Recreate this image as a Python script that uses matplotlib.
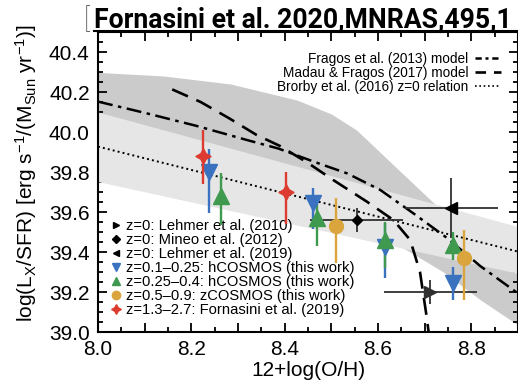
import matplotlib
matplotlib.use("Agg")
import matplotlib.pyplot as plt
from matplotlib.lines import Line2D
from matplotlib.ticker import MultipleLocator, FuncFormatter

plt.rcParams['font.family'] = ['Liberation Sans', 'DejaVu Sans']
plt.rcParams['mathtext.default'] = 'regular'

# ---------------- data ----------------
# Fornasini et al. (2019), z=1.3-2.7
red_x = [8.226, 8.403]
red_y = [39.88, 39.70]
red_up = [0.13, 0.10]
red_lo = [0.14, 0.16]

# hCOSMOS z=0.1-0.25
blue_x = [8.237, 8.461, 8.616, 8.761]
blue_y = [39.80, 39.647, 39.427, 39.243]
blue_up = [0.113, 0.071, 0.12, 0.084]
blue_lo = [0.203, 0.134, 0.159, 0.083]

# hCOSMOS z=0.25-0.4
green_x = [8.264, 8.469, 8.616, 8.761]
green_y = [39.68, 39.568, 39.46, 39.435]
green_up = [0.117, 0.092, 0.092, 0.065]
green_lo = [0.145, 0.138, 0.14, 0.075]

# zCOSMOS z=0.5-0.9
gold_x = [8.509, 8.785]
gold_y = [39.532, 39.368]
gold_up = [0.136, 0.142]
gold_lo = [0.189, 0.208]

# z=0 literature points
leh10_x, leh10_y, leh10_xerr, leh10_yerr = 8.712, 39.202, 0.1, 0.06
mineo_x, mineo_y, mineo_xerr, mineo_yerr = 8.554, 39.56, 0.1, 0.058
leh19_x, leh19_y, leh19_xerr, leh19_yerr = 8.757, 39.622, 0.1, 0.15

# Fragos et al. (2013) model (dash-dot)
frag_x = [8.0, 8.105, 8.212, 8.319, 8.387, 8.462, 8.534, 8.605, 8.676, 8.748, 8.819, 8.9]
frag_y = [40.152, 40.093, 40.03, 39.96, 39.917, 39.852, 39.793, 39.71, 39.593, 39.47, 39.33, 39.193]

# Fragos model uncertainty band (dark grey)
band_d_x = [8.0, 8.141, 8.284, 8.426, 8.50, 8.554, 8.64, 8.74, 8.82, 8.9]
band_d_hi = [40.298, 40.28, 40.24, 40.16, 40.09, 40.01, 39.82, 39.60, 39.46, 39.35]
band_d_lo = [40.0, 39.93, 39.84, 39.70, 39.62, 39.56, 39.44, 39.30, 39.16, 39.035]

# Madau & Fragos (2017) model (dashed)
mf_x = [8.159, 8.22, 8.28, 8.34, 8.39, 8.45, 8.504, 8.576, 8.633, 8.669, 8.690, 8.704, 8.709]
mf_y = [40.213, 40.15, 40.07, 39.985, 39.93, 39.845, 39.76, 39.652, 39.56, 39.46, 39.30, 39.08, 38.99]

# Brorby et al. (2016) z=0 relation (dotted) and its band (light grey)
bro_x = [8.0, 8.9]
bro_y = [39.927, 39.402]
bro_hi = [40.10, 39.527]
bro_lo = [39.752, 39.293]

# ---------------- figure ----------------
W, H = 518, 391
fig = plt.figure(figsize=(W / 100, H / 100), dpi=100)
ax = fig.add_axes([98 / W, 1 - 332 / H, 420 / W, 300 / H])

ax.fill_between(band_d_x, band_d_lo, band_d_hi, color='#cbcbcb', lw=0, zorder=1)
ax.fill_between(bro_x, bro_lo, bro_hi, color='#e6e6e6', lw=0, zorder=2)

l_frag, = ax.plot(frag_x, frag_y, color='black', lw=1.8, dashes=(6, 2.2, 1.4, 2.2), zorder=3)
l_mf, = ax.plot(mf_x, mf_y, color='black', lw=1.9, dashes=(6.5, 3.5), zorder=3)
l_bro, = ax.plot(bro_x, bro_y, color='black', lw=1.4, dashes=(1, 1.6), zorder=3)

dark = '#303030'
ax.errorbar(leh10_x, leh10_y, xerr=leh10_xerr, yerr=leh10_yerr, fmt='>', ms=8,
            color=dark, ecolor=dark, elinewidth=1.3, capsize=0, zorder=5)
ax.errorbar(mineo_x, mineo_y, xerr=mineo_xerr, yerr=mineo_yerr, fmt='D', ms=5,
            color='black', ecolor=dark, elinewidth=1.3, capsize=0, zorder=5)
ax.errorbar(leh19_x, leh19_y, xerr=leh19_xerr, yerr=leh19_yerr, fmt='<', ms=8,
            color='black', ecolor=dark, elinewidth=1.3, capsize=0, zorder=5)

c_red = '#dd3b2f'
c_blue = '#3a72c0'
c_green = '#3f9a4f'
c_gold = '#d9a53c'

ax.errorbar(blue_x, blue_y, yerr=[blue_lo, blue_up], fmt='v', ms=11, color=c_blue,
            elinewidth=1.7, capsize=0, zorder=6)
ax.errorbar(green_x, green_y, yerr=[green_lo, green_up], fmt='^', ms=11, color=c_green,
            elinewidth=1.7, capsize=0, zorder=6)
ax.errorbar(gold_x, gold_y, yerr=[gold_lo, gold_up], fmt='o', ms=10, color=c_gold,
            elinewidth=1.7, capsize=0, zorder=6)
ax.errorbar(red_x, red_y, yerr=[red_lo, red_up], fmt='none', ecolor=c_red,
            elinewidth=1.7, capsize=0, zorder=7)
ax.plot(red_x, red_y, ls='none', marker=(4, 1, 0), ms=11, color=c_red, zorder=7)

ax.set_xlim(8.0, 8.9)
ax.set_ylim(39.0, 40.5)

ax.xaxis.set_major_locator(MultipleLocator(0.1))
ax.xaxis.set_minor_locator(MultipleLocator(0.05))
ax.xaxis.set_major_formatter(FuncFormatter(
    lambda v, p: ('%.1f' % v) if abs(round(v * 10) % 2) < 0.5 else ''))
ax.yaxis.set_major_locator(MultipleLocator(0.2))
ax.yaxis.set_minor_locator(MultipleLocator(0.05))
ax.yaxis.set_major_formatter(FuncFormatter(lambda v, p: '%.1f' % v))

ax.tick_params(which='both', direction='in', top=True, right=True, width=1.3,
               labelsize=15, colors='black')
ax.tick_params(which='major', length=6.5, pad=6)
ax.tick_params(which='minor', length=3.5)
for s in ax.spines.values():
    s.set_linewidth(1.5)

ax.set_xlabel('12+log(O/H)', fontsize=15, labelpad=1)
fig.text(26 / W, 1 - 173 / H,
         'log(L$_X$/SFR) [erg s$^{-1}$/(M$_{Sun}$ yr$^{-1}$)]',
         rotation=90, fontsize=15, ha='center', va='center')

# legends
h1 = [
    Line2D([], [], ls='none', marker='>', ms=5, color='black'),
    Line2D([], [], ls='none', marker='D', ms=4, color='black'),
    Line2D([], [], ls='none', marker='<', ms=5, color='black'),
    Line2D([], [], ls='none', marker='v', ms=6, color=c_blue),
    Line2D([], [], ls='none', marker='^', ms=6, color=c_green),
    Line2D([], [], ls='none', marker='o', ms=6, color=c_gold),
    Line2D([], [], ls='none', marker=(4, 1, 0), ms=7, color=c_red),
]
lab1 = [
    'z=0: Lehmer et al. (2010)',
    'z=0: Mineo et al. (2012)',
    'z=0: Lehmer et al. (2019)',
    'z=0.1\u20130.25: hCOSMOS (this work)',
    'z=0.25\u20130.4: hCOSMOS (this work)',
    'z=0.5\u20130.9: zCOSMOS (this work)',
    'z=1.3\u20132.7: Fornasini et al. (2019)',
]
leg1 = ax.legend(h1, lab1, loc='lower left', bbox_to_anchor=(0.03, 0.05),
                 frameon=False, fontsize=10.6, handlelength=0.7, handletextpad=0.35,
                 labelspacing=0.0, borderpad=0, borderaxespad=0)
ax.add_artist(leg1)

h2 = [
    Line2D([], [], color='black', lw=1.8, dashes=(2.5, 1.5, 1.2, 1.5)),
    Line2D([], [], color='black', lw=1.9, dashes=(4, 3)),
    Line2D([], [], color='black', lw=1.2, dashes=(1, 1.6)),
]
lab2 = ['Fragos et al. (2013) model', 'Madau & Fragos (2017) model',
        'Brorby et al. (2016) z=0 relation']
leg2 = ax.legend(h2, lab2, loc='upper right', bbox_to_anchor=(0.96, 0.935),
                 frameon=False, fontsize=9.8, handlelength=1.9, handletextpad=0.5,
                 labelspacing=0.0, borderpad=0, borderaxespad=0, markerfirst=False)
for t in leg2.get_texts():
    t.set_ha('right')

# title (header as visible, cropped at the right in the reference)
fig.text(84 / W, 1 - 28 / H, '[', fontsize=19.2, family='Roboto', fontweight='light',
         color='#333333', va='baseline')
fig.text(94 / W, 1 - 28 / H, 'Fornasini et al. 2020,MNRAS,495,1', fontsize=19.2,
         family='Roboto', fontweight='bold', va='baseline')
fig.add_artist(Line2D([94 / W, 1.0], [1 - 30.8 / H, 1 - 30.8 / H],
                      transform=fig.transFigure, color='black', lw=1.5))

fig.savefig('out.png', dpi=100)
